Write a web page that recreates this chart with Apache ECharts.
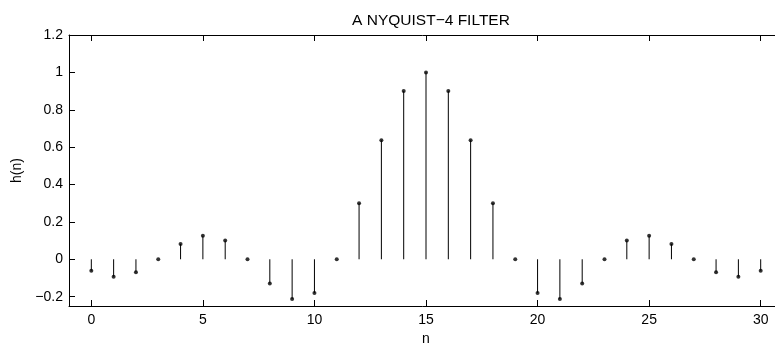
<!DOCTYPE html>
<html><head><meta charset="utf-8">
<script src="https://cdn.jsdelivr.net/npm/echarts@6/dist/echarts.min.js"></script>
<style>html,body{margin:0;padding:0;background:#fff}#c{width:775px;height:345px}</style>
</head><body><div id="c"></div>
<script>
const n = [0,1,2,3,4,5,6,7,8,9,10,11,12,13,14,15,16,17,18,19,20,21,22,23,24,25,26,27,28,29,30];
const h = [-0.061,-0.093,-0.07,0,0.082,0.126,0.1,0,-0.129,-0.213,-0.18,0,0.3,0.637,0.9,1.0,0.9,0.637,0.3,0,-0.18,-0.213,-0.129,0,0.1,0.126,0.082,0,-0.07,-0.093,-0.061];
const xTicks = [0,5,10,15,20,25,30];
const yTicks = [-0.2,0,0.2,0.4,0.6,0.8,1,1.2];
const title = 'A NYQUIST\u22124 FILTER';

const pts = n.map((v,i)=>[v,h[i]]);
const font = 'Liberation Sans, Arial, Helvetica, sans-serif';
const fmtY = v => { const r = Math.round(v*10)/10; return (r<0?'\u2212':'') + Math.abs(r); };
const chart = echarts.init(document.getElementById('c'), null, {renderer:'canvas'});
chart.setOption({
  animation:false,
  backgroundColor:'#fff',
  title:{text:title,left:426,top:8,textAlign:'center',textStyle:{fontFamily:font,fontSize:15.5,fontWeight:'normal',color:'#000'}},
  grid:{left:69,width:714,top:35,height:271,containLabel:false,outerBoundsMode:'none'},
  xAxis:[{
    type:'value',min:-1,max:31,position:'bottom',
    name:'n',nameLocation:'middle',nameGap:22,nameTextStyle:{fontFamily:font,fontSize:14,color:'#000'},
    axisLine:{onZero:false,lineStyle:{color:'#000',width:1}},
    axisTick:{inside:true,length:6,customValues:xTicks,lineStyle:{color:'#000'}},
    axisLabel:{customValues:xTicks,fontFamily:font,fontSize:14,color:'#000',margin:7},
    splitLine:{show:false}
  },{
    type:'value',min:-1,max:31,position:'top',
    axisLine:{onZero:false,lineStyle:{color:'#000',width:1}},
    axisTick:{inside:true,length:6,customValues:xTicks,lineStyle:{color:'#000'}},
    axisLabel:{show:false},splitLine:{show:false}
  }],
  yAxis:[{
    type:'value',min:-0.25,max:1.2,
    name:'h(n)',nameLocation:'middle',nameGap:41,nameRotate:90,nameTextStyle:{fontFamily:font,fontSize:14,color:'#000'},
    axisLine:{onZero:false,lineStyle:{color:'#000',width:1}},
    axisTick:{inside:true,length:6,customValues:yTicks,lineStyle:{color:'#000'}},
    axisLabel:{customValues:yTicks,formatter:fmtY,fontFamily:font,fontSize:14,color:'#000',margin:6},
    splitLine:{show:false}
  }],
  series:[{
    type:'custom',
    data:pts,
    renderItem:function(params,api){
      const p0 = api.coord([api.value(0),0]);
      const p1 = api.coord([api.value(0),api.value(1)]);
      return {type:'line',shape:{x1:p0[0],y1:p0[1],x2:p1[0],y2:p1[1]},style:{stroke:'#000',lineWidth:1}};
    },
    encode:{x:0,y:1},
    clip:false,
    silent:true
  },{
    type:'scatter',data:pts,symbol:'circle',symbolSize:4,
    itemStyle:{color:'#000'},silent:true
  }]
});
</script></body></html>
